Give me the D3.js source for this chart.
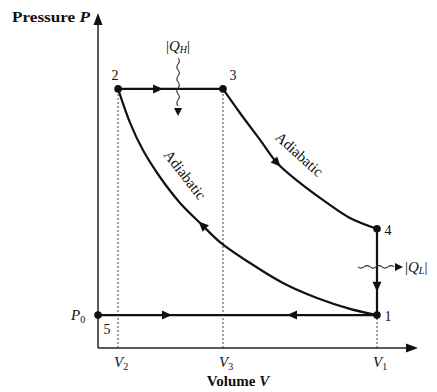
<!DOCTYPE html>
<html>
<head>
<meta charset="utf-8">
<script src="https://cdn.jsdelivr.net/npm/d3@7"></script>
<style>
  body { margin: 0; background: #fff; }
  text { font-family: "Liberation Serif", "DejaVu Serif", serif; fill: #111; }
</style>
</head>
<body>
<svg id="chart" width="437" height="392"></svg>
<script>
// State points of the cycle (arbitrary units)
var stateNames = ["1", "2", "3", "4", "5"];
var stateV = [10, 0.72, 4.48, 10, 0];
var stateP = [1.27, 10, 10, 4.6, 1.27];

// Volume tick marks on the x axis
var tickSubs = ["2", "3", "1"];
var tickV = [0.72, 4.48, 10];

// Lower adiabatic (compression 1 -> 2)
var compV = [10, 9.03, 7.85, 6.63, 5.45, 4.37, 3.73, 2.94, 2.22, 1.61, 1.15, 0.72];
var compP = [1.27, 1.51, 1.93, 2.51, 3.28, 4.09, 4.75, 5.6, 6.6, 7.64, 8.69, 10];

// Upper adiabatic (expansion 3 -> 4)
var expV = [4.48, 5.09, 5.81, 6.42, 7.24, 8.21, 9.03, 10];
var expP = [10, 9.07, 8.03, 7.14, 6.37, 5.6, 5.02, 4.6];

var P0 = 1.27;

var svg = d3.select("#chart");
var x = d3.scaleLinear().domain([0, 11.47]).range([98, 418]);
var y = d3.scaleLinear().domain([0, 12.93]).range([348, 13]);

var line = d3.line()
  .x(function(d) { return x(d[0]); })
  .y(function(d) { return y(d[1]); });
var curve = d3.line()
  .x(function(d) { return x(d[0]); })
  .y(function(d) { return y(d[1]); })
  .curve(d3.curveCatmullRom.alpha(0.5));

// Dashed guides from the axis up to the states
var guideTop = [stateP[1], stateP[2], stateP[0]];
svg.selectAll(".guide")
  .data(tickV)
  .enter().append("line")
  .attr("class", "guide")
  .attr("x1", function(d) { return x(d); })
  .attr("x2", function(d) { return x(d); })
  .attr("y1", y(0))
  .attr("y2", function(d, i) { return y(guideTop[i]); })
  .attr("stroke", "#888")
  .attr("stroke-width", 1.6)
  .attr("stroke-dasharray", "2,2");

// Axes with arrowheads
svg.append("line")
  .attr("x1", x(0)).attr("y1", y(0))
  .attr("x2", x(0)).attr("y2", y.range()[1] + 8)
  .attr("stroke", "#222").attr("stroke-width", 1.5);
svg.append("line")
  .attr("x1", x(0)).attr("y1", y(0))
  .attr("x2", x.range()[1] - 8).attr("y2", y(0))
  .attr("stroke", "#222").attr("stroke-width", 1.5);

function head(px, py, angle, len, wid) {
  svg.append("path")
    .attr("d", "M0,0 L" + (-len) + "," + (-wid / 2) + " L" + (-len) + "," + (wid / 2) + " Z")
    .attr("transform", "translate(" + px + "," + py + ") rotate(" + angle + ")")
    .attr("fill", "#111");
}
head(x(0), y.range()[1], -90, 12, 9);
head(x.range()[1], y(0), 0, 12, 9);

// The cycle
var segs = [];
segs.push(svg.append("path").datum([[stateV[1], stateP[1]], [stateV[2], stateP[2]]]).attr("d", line));
segs.push(svg.append("path").datum(d3.zip(expV, expP)).attr("d", curve));
segs.push(svg.append("path").datum([[stateV[3], stateP[3]], [stateV[0], stateP[0]]]).attr("d", line));
segs.push(svg.append("path").datum(d3.zip(compV, compP)).attr("d", curve));
segs.push(svg.append("path").datum([[stateV[4], P0], [stateV[0], P0]]).attr("d", line));
segs.forEach(function(s) {
  s.attr("fill", "none").attr("stroke", "#111").attr("stroke-width", 2.2);
});

// Arrowheads on the cycle: segment, target V, target P, reversed
var arrowSeg = [0, 1, 2, 3, 4, 4];
var arrowV = [2.15, 6.42, 10, 3.73, 2.47, 6.95];
var arrowP = [10, 7.14, 2.36, 4.75, P0, P0];
var arrowRev = [false, false, false, false, false, true];

arrowSeg.forEach(function(si, i) {
  var node = segs[si].node();
  var total = node.getTotalLength();
  var tx = x(arrowV[i]), ty = y(arrowP[i]);
  var best = 0, bestD = Infinity;
  for (var l = 0; l <= total; l += 0.5) {
    var p = node.getPointAtLength(l);
    var dd = (p.x - tx) * (p.x - tx) + (p.y - ty) * (p.y - ty);
    if (dd < bestD) { bestD = dd; best = l; }
  }
  var a = node.getPointAtLength(Math.max(0, best - 2));
  var b = node.getPointAtLength(Math.min(total, best + 2));
  var ang = Math.atan2(b.y - a.y, b.x - a.x) * 180 / Math.PI;
  if (arrowRev[i]) ang += 180;
  var c = node.getPointAtLength(best);
  head(c.x + 5 * Math.cos(ang * Math.PI / 180), c.y + 5 * Math.sin(ang * Math.PI / 180), ang, 10, 9);
});

// State dots
svg.selectAll(".state")
  .data(stateNames)
  .enter().append("circle")
  .attr("class", "state")
  .attr("cx", function(d, i) { return x(stateV[i]); })
  .attr("cy", function(d, i) { return y(stateP[i]); })
  .attr("r", 3.8)
  .attr("fill", "#111");

// State labels
var labelDx = [11, -3, 10, 11, 9];
var labelDy = [6, -9, -9, 6, 19];
svg.selectAll(".slabel")
  .data(stateNames)
  .enter().append("text")
  .attr("class", "slabel")
  .attr("x", function(d, i) { return x(stateV[i]) + labelDx[i]; })
  .attr("y", function(d, i) { return y(stateP[i]) + labelDy[i]; })
  .attr("text-anchor", "middle")
  .attr("font-size", 14)
  .text(function(d) { return d; });

// Volume tick labels
svg.selectAll(".vlabel")
  .data(tickV)
  .enter().append("text")
  .attr("class", "vlabel")
  .attr("x", function(d) { return x(d) - 4; })
  .attr("y", y(0) + 19)
  .attr("font-size", 15)
  .each(function(d, i) {
    var t = d3.select(this);
    t.append("tspan").attr("font-style", "italic").text("V");
    t.append("tspan").attr("font-size", 10).attr("dy", 3).text(tickSubs[i]);
  });

// P0 label
var p0 = svg.append("text")
  .attr("x", x(0) - 27).attr("y", y(P0) + 5)
  .attr("font-size", 15);
p0.append("tspan").attr("font-style", "italic").text("P");
p0.append("tspan").attr("font-size", 10).attr("dy", 3).text("0");

// Axis titles
var yt = svg.append("text").attr("x", 12).attr("y", 22)
  .attr("font-size", 15).attr("font-weight", "bold")
  .attr("textLength", 78).attr("lengthAdjust", "spacingAndGlyphs");
yt.append("tspan").text("Pressure ");
yt.append("tspan").attr("font-style", "italic").text("P");

var xt = svg.append("text").attr("x", 238).attr("y", 386)
  .attr("text-anchor", "middle")
  .attr("font-size", 15).attr("font-weight", "bold");
xt.append("tspan").text("Volume ");
xt.append("tspan").attr("font-style", "italic").text("V");

// Adiabatic labels
svg.append("text")
  .attr("transform", "translate(" + 296 + "," + 158 + ") rotate(42)")
  .attr("text-anchor", "middle").attr("font-size", 15)
  .text("Adiabatic");
svg.append("text")
  .attr("transform", "translate(" + 181 + "," + 178 + ") rotate(52)")
  .attr("text-anchor", "middle").attr("font-size", 15)
  .text("Adiabatic");

// Heat flow squiggles
function squiggle(x0, y0, len, vertical) {
  var d = "M" + x0 + "," + y0;
  var n = Math.round(len / 6);
  for (var k = 0; k < n; k++) {
    var s = (k % 2 === 0) ? 2.5 : -2.5;
    if (vertical) d += " q" + s + ",3 0,6";
    else d += " q3," + s + " 6,0";
  }
  svg.append("path").attr("d", d)
    .attr("fill", "none").attr("stroke", "#333").attr("stroke-width", 1.1);
}
var qhV = 2.87, qlP = 3.13;
squiggle(x(qhV), 58, 48, true);
head(x(qhV), 116, 90, 8, 8);
squiggle(358, y(qlP), 36, false);
head(403, y(qlP), 0, 8, 8);

var qh = svg.append("text").attr("x", x(qhV)).attr("y", 51)
  .attr("text-anchor", "middle").attr("font-size", 15);
qh.append("tspan").text("|");
qh.append("tspan").attr("font-style", "italic").text("Q");
qh.append("tspan").attr("font-style", "italic").attr("font-size", 10).attr("dy", 2).text("H");
qh.append("tspan").attr("dy", -2).text("|");

var ql = svg.append("text").attr("x", 405).attr("y", y(qlP) + 5)
  .attr("font-size", 15);
ql.append("tspan").text("|");
ql.append("tspan").attr("font-style", "italic").text("Q");
ql.append("tspan").attr("font-style", "italic").attr("font-size", 10).attr("dy", 2).text("L");
ql.append("tspan").attr("dy", -2).text("|");
</script>
</body>
</html>
